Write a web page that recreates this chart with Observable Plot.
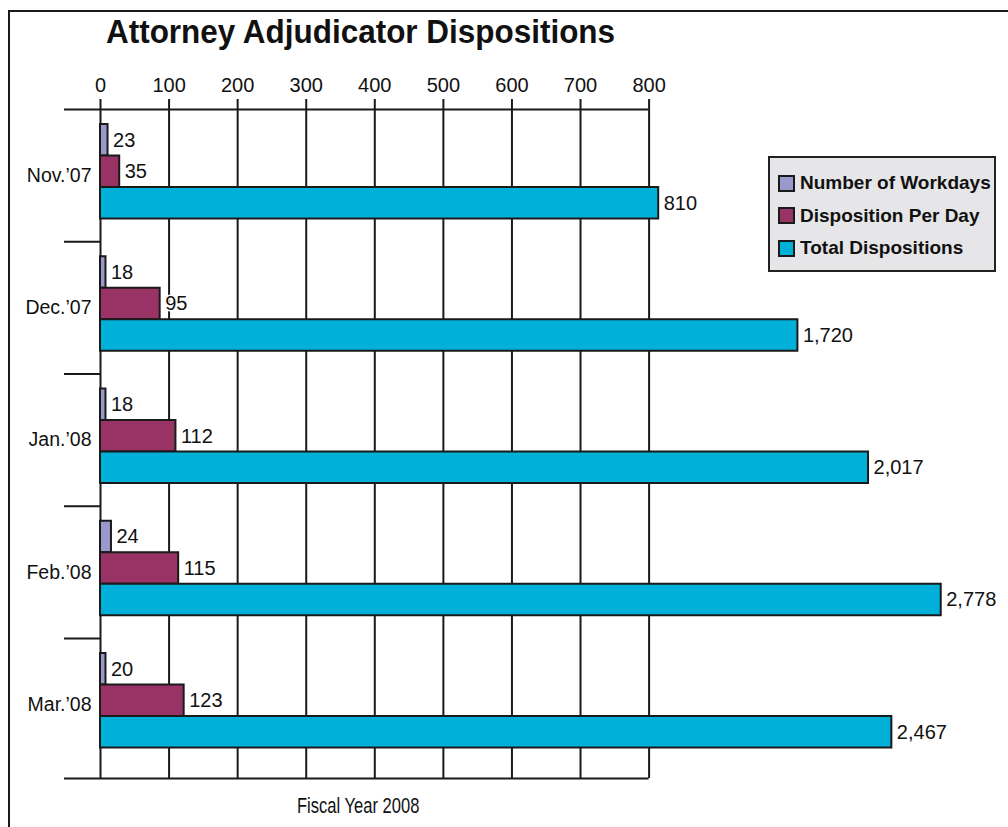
<!DOCTYPE html>
<html>
<head>
<meta charset="utf-8">
<script src="https://cdn.jsdelivr.net/npm/d3@7"></script>
<script src="https://cdn.jsdelivr.net/npm/@observablehq/plot@0.6"></script>
<style>
  html, body { margin: 0; padding: 0; background: #fff; }
  body { font-family: Arial, "Liberation Sans", Helvetica, sans-serif; color: #111; }
  #wrap { position: relative; width: 1008px; height: 827px; overflow: hidden; }
  #chart { position: absolute; left: 0; top: 0; }
  #frame { position: absolute; left: 8px; top: 10px; width: 1100px; height: 900px;
           border-left: 2.5px solid #1a1a1a; border-top: 2.5px solid #1a1a1a; pointer-events: none; }
  #title { position: absolute; left: 106px; top: 14px; font-size: 34px; line-height: 34px; font-weight: bold;
           white-space: nowrap; transform: scaleX(0.925); transform-origin: left center; color: #111; }
  #caption { position: absolute; left: 297px; top: 795px; white-space: nowrap;
             font-size: 21.5px; line-height: 22px; color: #111; transform: scaleX(0.77); transform-origin: left center; }
  #legend { position: absolute; left: 768px; top: 156px; width: 224px; height: 112px;
            background: #e6e6e8; border: 2px solid #222; }
  .lrow { position: absolute; left: 8px; height: 20px; display: flex; align-items: center; }
  .lsw { width: 13px; height: 13px; border: 2px solid #1a1a1a; margin-right: 5px; }
  .ltx { font-size: 19px; font-weight: bold; color: #111; white-space: nowrap; }
</style>
</head>
<body>
<div id="wrap">
  <div id="chart"></div>
  <div id="title">Attorney Adjudicator Dispositions</div>
  <div id="legend"></div>
  <div id="caption">Fiscal Year 2008</div>
  <div id="frame"></div>
</div>
<script>
// ---- data ----
const months = ["Nov.\u201907", "Dec.\u201907", "Jan.\u201908", "Feb.\u201908", "Mar.\u201908"];
const workdays = [23, 18, 18, 24, 20];
const perDay = [35, 95, 112, 115, 123];
const totals = [810, 1720, 2017, 2778, 2467];
// bar extents as drawn in the original (read on its 0–800 axis; the original is not to scale)
const workdayBarLen = [11, 8, 8, 16, 8];
const perDayBarLen = [28, 87, 110, 114, 122];
const totalBarLen = [814, 1017, 1120, 1226, 1154];
const xTicks = [0, 100, 200, 300, 400, 500, 600, 700, 800];
const seriesNames = ["Number of Workdays", "Disposition Per Day", "Total Dispositions"];
const seriesColors = ["#9999cc", "#993366", "#00b0d8"];

const rows = months.map((m, i) => ({
  month: m,
  work: workdays[i], workLen: workdayBarLen[i],
  per: perDay[i], perLen: perDayBarLen[i],
  total: totals[i], totalLen: totalBarLen[i]
}));

// ---- layout ----
const W = 1008, H = 827;
const yTop = 109, step = 132.25, yAxisBottom = 778;
const yEnd = yTop + step * months.length;
const barH = 31.5, firstInset = 15;
const ink = "#1a1a1a";
const fmt = d3.format(",");

function bandInsets(k) {
  const top = firstInset + k * barH;
  return {insetTop: top, insetBottom: step - top - barH, center: top + barH / 2 - step / 2};
}
const b0 = bandInsets(0), b1 = bandInsets(1), b2 = bandInsets(2);

const labelStyle = {textAnchor: "start", dx: 5, fill: "#111", stroke: "white", strokeWidth: 3, paintOrder: "stroke", fontSize: 20};

const chart = Plot.plot({
  width: W, height: H,
  marginLeft: 100, marginRight: W - 100 - 1300 * (548.6 / 800), marginTop: 99, marginBottom: H - yAxisBottom,
  style: {background: "transparent", fontFamily: "Arial, 'Liberation Sans', Helvetica, sans-serif", fontSize: "20px", color: "#111"},
  x: {domain: [0, 1300]},
  y: {domain: months, range: [yTop, yEnd], padding: 0, round: false},
  marks: [
    // vertical grid lines (with the small ticks above the top line)
    Plot.ruleX(xTicks, {stroke: ink, strokeWidth: 2}),
    // top and bottom lines and category separators
    Plot.ruleY([months[0]], {y: d => d, dy: -step / 2, x1: 0, x2: 800, insetLeft: -36, stroke: ink, strokeWidth: 2}),
    Plot.ruleY([months[months.length - 1]], {y: d => d, dy: step / 2 + (yAxisBottom - yEnd), x1: 0, x2: 800, insetLeft: -36, stroke: ink, strokeWidth: 2}),
    Plot.ruleY(months.slice(1), {y: d => d, dy: -step / 2, x1: 0, x2: 0, insetLeft: -36, stroke: ink, strokeWidth: 2}),
    // bars
    Plot.barX(rows, {x: "workLen", y: "month", fill: seriesColors[0], stroke: ink, strokeWidth: 2, insetTop: b0.insetTop, insetBottom: b0.insetBottom}),
    Plot.barX(rows, {x: "perLen", y: "month", fill: seriesColors[1], stroke: ink, strokeWidth: 2, insetTop: b1.insetTop, insetBottom: b1.insetBottom}),
    Plot.barX(rows, {x: "totalLen", y: "month", fill: seriesColors[2], stroke: ink, strokeWidth: 2, insetTop: b2.insetTop, insetBottom: b2.insetBottom}),
    // value labels
    Plot.text(rows, {x: "workLen", y: "month", text: d => fmt(d.work), dy: b0.center, ...labelStyle}),
    Plot.text(rows, {x: "perLen", y: "month", text: d => fmt(d.per), dy: b1.center, ...labelStyle}),
    Plot.text(rows, {x: "totalLen", y: "month", text: d => fmt(d.total), dy: b2.center, ...labelStyle}),
    // axes
    Plot.axisX(xTicks, {anchor: "top", tickSize: 0, tickPadding: 8, label: null, fontSize: 20, fill: "#111"}),
    Plot.axisY({anchor: "left", tickSize: 0, tickPadding: 9, label: null, fontSize: 19.5, fill: "#111"})
  ]
});
document.getElementById("chart").appendChild(chart);

// ---- legend ----
const legend = document.getElementById("legend");
seriesNames.forEach((name, i) => {
  const row = document.createElement("div");
  row.className = "lrow";
  row.style.top = (15 + i * 32.5) + "px";
  const sw = document.createElement("div");
  sw.className = "lsw";
  sw.style.background = seriesColors[i];
  const tx = document.createElement("span");
  tx.className = "ltx";
  tx.textContent = name;
  row.appendChild(sw); row.appendChild(tx);
  legend.appendChild(row);
});
</script>
</body>
</html>
